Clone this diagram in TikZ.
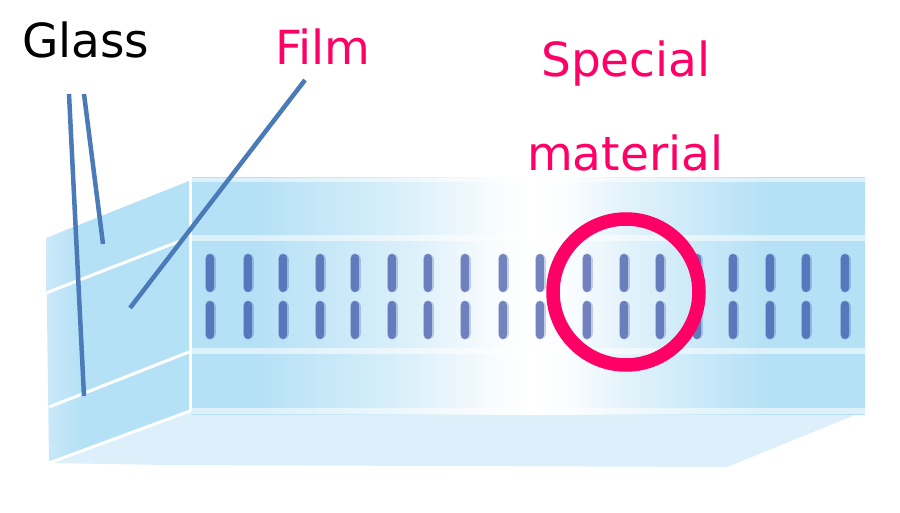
\documentclass[tikz,border=0pt]{standalone}
\usepackage{fontspec}
\setmainfont{DejaVu Sans}
\usetikzlibrary{shadings}

\definecolor{glassblue}{HTML}{B5E1F6}
\definecolor{sidepale}{HTML}{CBE9F9}
\definecolor{floorblue}{HTML}{DCEFFA}
\definecolor{barblue}{HTML}{102990}
\definecolor{leadblue}{HTML}{4A7AB8}
\definecolor{markred}{HTML}{FF0066}
\definecolor{fadea}{HTML}{C0E5F7}
\definecolor{fadeb}{HTML}{D9EFFA}
\definecolor{fadec}{HTML}{F0F8FD}
\definecolor{faded}{HTML}{FAFDFE}
\definecolor{fadee}{HTML}{E5F3FB}
\definecolor{fadef}{HTML}{C9E9F8}

\pgfdeclarehorizontalshading{frontfade}{100bp}{color(0bp)=(glassblue); color(30bp)=(glassblue); color(33bp)=(fadea); color(40.5bp)=(fadeb); color(45.6bp)=(fadec); color(48bp)=(faded); color(50.3bp)=(white); color(53bp)=(faded); color(56.8bp)=(fadee); color(62.8bp)=(fadef); color(67.6bp)=(glassblue); color(100bp)=(glassblue)}
\pgfdeclarehorizontalshading{sidefade}{100bp}{color(0bp)=(sidepale); color(25bp)=(sidepale); color(37bp)=(glassblue); color(100bp)=(glassblue)}

\begin{document}
\begin{tikzpicture}[x=1pt, y=-1pt]
      \tikzstyle{STYTXT} = [anchor=base west, inner sep=0pt, font=\fontsize{47}{52}\selectfont]
      \tikzstyle{STYLEAD} = [draw=leadblue, line width=4.5pt]
      \tikzstyle{STYSEP} = [draw=white, line width=3pt]
      \tikzstyle{STYBAR} = [line cap=round, draw=barblue]

      \useasboundingbox (0, 0) rectangle (900, 513);

      %%%%% GLASS BODY
      \fill[floorblue] (49, 463) -- (192, 411) -- (865, 411) -- (727, 467) -- (165, 465) -- cycle;
      \shade[shading=sidefade] (46, 238) -- (189, 181) -- (189, 411) -- (49, 462) -- cycle;
      \shade[shading=frontfade] (192, 178) rectangle (865, 414);

      \fill[white, opacity=.55] (192, 178) rectangle (865, 182);
      \fill[white, opacity=.55] (192, 235) rectangle (865, 241);
      \fill[white, opacity=.55] (192, 348) rectangle (865, 354);
      \fill[white, opacity=.55] (192, 408) rectangle (865, 414);

      \draw[STYSEP] (46, 293) -- (180, 241);
      \draw[STYSEP] (49, 407) -- (189, 352);
      \draw[STYSEP] (49, 463) -- (190, 411);
      \draw[STYSEP] (190.5, 181) -- (190.5, 411);

      %%%%% BARS
      \foreach \xb in {210, 248, 283, 320, 355, 392, 428, 465, 503, 540, 587, 624, 660, 697, 733, 770, 806, 845} {
        \draw[STYBAR, line width=11pt, opacity=.22] (\xb, 259) -- (\xb, 287);
        \draw[STYBAR, line width=8pt, opacity=.45] (\xb, 258) -- (\xb, 288);
        \draw[STYBAR, line width=11pt, opacity=.22] (\xb, 306) -- (\xb, 334);
        \draw[STYBAR, line width=8pt, opacity=.45] (\xb, 305) -- (\xb, 335);
      }

      %%%%% LABELS
      \node[STYTXT, text=black](glass) at (22, 58) {Glass};
      \node[STYTXT, text=markred](film) at (275, 65) {Film};
      \node[STYTXT, text=markred](special) at (541, 77) {Special};
      \node[STYTXT, text=markred](material) at (527, 171) {material};

      \node[draw=markred, line width=13.5pt, circle, inner sep=0pt, minimum size=146pt](ring) at (626, 292) {};

      %%%%% LEADERS
      \coordinate (g1) at (69, 94);
      \coordinate (g2) at (84, 396);
      \coordinate (g3) at (84, 94);
      \coordinate (g4) at (103, 244);
      \coordinate (f1) at (305, 80);
      \coordinate (f2) at (130, 308);

      \draw[STYLEAD] (g1) -- (g2);
      \draw[STYLEAD] (g3) -- (g4);
      \draw[STYLEAD] (f1) -- (f2);
    \end{tikzpicture}
\end{document}
